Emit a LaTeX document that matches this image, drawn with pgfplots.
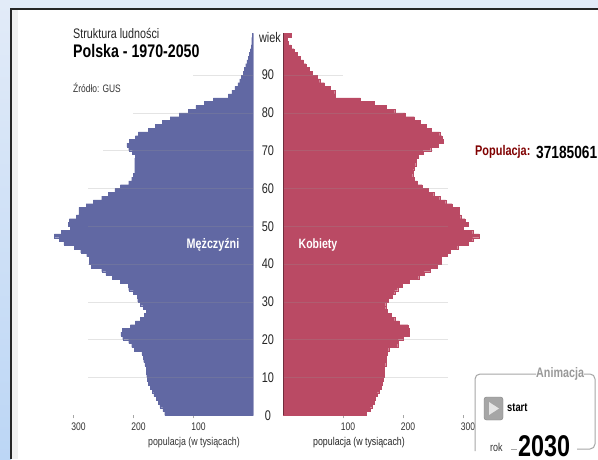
\documentclass[border=0pt]{standalone}
\usepackage{fontspec}
\usepackage{pgfplots}
\usepackage{pgfplotstable}
\pgfplotsset{compat=1.18}
\setmainfont{Liberation Sans}
\newfontfamily\nar[FakeStretch=0.78]{Liberation Sans}
\definecolor{men}{RGB}{97,104,163}
\definecolor{women}{RGB}{186,74,100}
\definecolor{gridc}{RGB}{150,150,150}
\definecolor{bgtop}{RGB}{226,235,248}
\definecolor{bgbot}{RGB}{188,214,245}

% age  men  women (thousands)
\pgfplotstableread{
age men women
0 148 139
1 151 145
2 156 148
3 159 152
4 162 154
5 166 157
6 169 160
7 172 163
8 175 165
9 177 167
10 178 168
11 179 168
12 179 169
13 181 171
14 183 172
15 184 172
16 186 174
17 199 176
18 203 191
19 208 192
20 218 200
21 221 210
22 219 210
23 205 208
24 197 194
25 189 186
26 182 180
27 179 174
28 184 171
29 189 171
30 193 175
31 194 182
32 200 186
33 208 191
34 209 199
35 222 210
36 235 226
37 246 235
38 253 245
39 270 257
40 274 264
41 274 264
42 278 273
43 288 278
44 299 291
45 316 308
46 324 316
47 332 327
48 320 316
49 305 300
50 309 308
51 307 303
52 295 296
53 291 293
54 291 293
55 279 282
56 267 271
57 253 261
58 242 251
59 231 242
60 222 232
61 208 224
62 203 219
63 200 216
64 198 217
65 198 218
66 198 221
67 198 222
68 197 225
69 202 233
70 208 246
71 211 258
72 207 267
73 197 265
74 192 261
75 175 247
76 164 239
77 152 229
78 139 219
79 124 203
80 109 186
81 96 172
82 82 152
83 67 129
84 42 87
85 36 86
86 31 79
87 26 69
88 23 61
89 20 57
90 17 49
91 15 44
92 13 38
93 11 34
94 9 28
95 7 23
96 5 18
97 4 13
98 3 9
99 3 7
100 2 13
101 2 13
}\pyr

\pgfplotsset{pyr/.style={
  scale only axis, width=204pt, height=381.8pt,
  xmin=0, xmax=340, ymin=0, ymax=101,
  axis line style={draw=none},
  xtick={100,200,300}, xtick pos=lower, tick align=outside,
  major tick length=3pt,
  xtick style={gray!70, line width=0.5pt},
  ytick style={draw=none},
  /pgf/number format/assume math mode=true,
  x tick label style={font=\nar\fontsize{11}{11}\selectfont, text=black!80, xshift=5pt, yshift=-1pt},
  y tick label style={font=\nar\fontsize{14}{14}\selectfont, text=black!85},
}}

\begin{document}
\begin{tikzpicture}[x=1pt,y=1pt]
\path[use as bounding box] (0,0) rectangle (598,459);
% background
\shade[top color=bgtop, bottom color=bgbot] (0,0) rectangle (11,459);
\fill[bgtop] (0,450) rectangle (598,459);
\fill[white] (11,0) rectangle (598,450);
\fill[black!6] (12,0) rectangle (18,449);
\draw[black!85, line width=1.3pt] (11,0) -- (11,450) -- (598,450);

% men
\begin{axis}[pyr, at={(49.5pt,43.7pt)}, x dir=reverse, ytick=\empty]
\addplot[xbar interval, fill=men, draw=men, line width=0.1pt] table[x=men,y=age] {\pyr};
\addplot[gridc, opacity=.25, line width=.6pt] coordinates {(0,10) (275,10)};
\addplot[gridc, opacity=.25, line width=.6pt] coordinates {(0,20) (275,20)};
\addplot[gridc, opacity=.25, line width=.6pt] coordinates {(0,30) (275,30)};
\addplot[gridc, opacity=.25, line width=.6pt] coordinates {(0,40) (275,40)};
\addplot[gridc, opacity=.25, line width=.6pt] coordinates {(0,50) (275,50)};
\addplot[gridc, opacity=.25, line width=.6pt] coordinates {(0,60) (275,60)};
\addplot[gridc, opacity=.25, line width=.6pt] coordinates {(0,70) (250,70)};
\addplot[gridc, opacity=.25, line width=.6pt] coordinates {(0,80) (200,80)};
\addplot[gridc, opacity=.25, line width=.6pt] coordinates {(0,90) (100,90)};
\end{axis}

% women
\begin{axis}[pyr, at={(283pt,43.7pt)},
  ytick={0,10,...,90}, ytick pos=left,
  y tick label style={anchor=center, xshift=-12pt}]
\addplot[xbar interval, fill=women, draw=women, line width=0.1pt] table[x=women,y=age] {\pyr};
\addplot[gridc, opacity=.25, line width=.6pt] coordinates {(0,10) (275,10)};
\addplot[gridc, opacity=.25, line width=.6pt] coordinates {(0,20) (275,20)};
\addplot[gridc, opacity=.25, line width=.6pt] coordinates {(0,30) (275,30)};
\addplot[gridc, opacity=.25, line width=.6pt] coordinates {(0,40) (275,40)};
\addplot[gridc, opacity=.25, line width=.6pt] coordinates {(0,50) (275,50)};
\addplot[gridc, opacity=.25, line width=.6pt] coordinates {(0,60) (275,60)};
\addplot[gridc, opacity=.25, line width=.6pt] coordinates {(0,70) (250,70)};
\addplot[gridc, opacity=.25, line width=.6pt] coordinates {(0,80) (200,80)};
\addplot[gridc, opacity=.25, line width=.6pt] coordinates {(0,90) (100,90)};
\addplot[women!60!black, line width=.7pt] coordinates {(0,0) (0,101)};
\end{axis}

% texts
\tikzset{lab/.style={inner sep=0pt, anchor=west}}
\node[lab, text=black!85] at (73,426) {\nar\fontsize{13.8}{14}\selectfont Struktura ludności};
\node[lab] at (73,408) {\nar\bfseries\fontsize{18.2}{18}\selectfont Polska - 1970-2050};
\node[lab, text=black!80] at (73,371) {\nar\fontsize{10.8}{11}\selectfont Źródło: GUS};
\node[inner sep=0pt, text=black!85] at (270,422) {\nar\fontsize{14}{14}\selectfont wiek};
\node[inner sep=0pt, text=white] at (213,214) {\nar\bfseries\fontsize{13.8}{14}\selectfont Mężczyźni};
\node[inner sep=0pt, text=white] at (318,214) {\nar\bfseries\fontsize{13.5}{14}\selectfont Kobiety};
\node[inner sep=0pt, text=black!80] at (194,16) {\nar\fontsize{11.3}{11}\selectfont populacja (w tysiącach)};
\node[inner sep=0pt, text=black!85] at (359,16) {\nar\fontsize{11.3}{11}\selectfont populacja (w tysiącach)};
\node[lab, text=red!50!black] at (475,307) {\nar\bfseries\fontsize{14}{14}\selectfont Populacja:};
\node[lab] at (536,307) {\nar\bfseries\fontsize{17.6}{18}\selectfont 37185061};

% animation box
\draw[black!35, line width=1pt, rounded corners=5pt]
  (536,85) -- (475,85) -- (475,8);
\draw[black!35, line width=1pt, rounded corners=5pt]
  (584,85) -- (595,85) -- (595,10) -- (577,10);
\draw[black!35, line width=1pt] (511,10) -- (517,10);
\node[lab, text=black!40] at (536,85) {\nar\bfseries\fontsize{13.8}{14}\selectfont Animacja};
\fill[black!35, draw=black!50, rounded corners=2.5pt] (484,39) rectangle (503,62);
\fill[white!90!black] (489,44) -- (489,57) -- (499,50.5) -- cycle;
\node[lab] at (507,51) {\nar\bfseries\fontsize{12}{12}\selectfont start};
\node[lab, text=black!80] at (490,12) {\nar\fontsize{11.5}{12}\selectfont rok};
\node[lab] at (518,13) {\nar\bfseries\fontsize{30}{30}\selectfont 2030};
\end{tikzpicture}
\end{document}
